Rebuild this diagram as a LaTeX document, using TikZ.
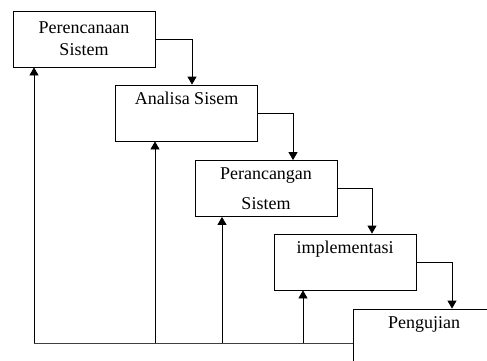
\documentclass[tikz,border=0pt]{standalone}
\usepackage{fontspec}
\setmainfont{Liberation Serif}
\usetikzlibrary{arrows.meta}
\tikzset{>={Triangle[length=8pt,width=9pt]}}

\begin{document}
\begin{tikzpicture}[x=1pt, y=-1pt, line width=0.8pt,
    tahap/.style={draw, minimum width=142pt, minimum height=56pt, inner sep=0pt,
      align=center, font=\fontsize{18}{22}\selectfont}]
    \clip (0,0) rectangle (487,360);
    \node[tahap] (P) at (84,39) {Perencanaan\\Sistem};
    \node[tahap] (A) at (186.5,113) {Analisa Sisem\\ \strut};
    \node[tahap] (R) at (266,188.5) {Perancangan\\[8pt]Sistem};
    \node[tahap] (I) at (345,262) {implementasi\\ \strut};
    \node[tahap] (U) at (424,337) {Pengujian\\ \strut};
    \draw[->] (P.east) -| ([xshift=5.5pt]A.north);
    \draw[->] (A.east) -| ([xshift=27pt]R.north);
    \draw[->] (R.east) -| ([xshift=27pt]I.north);
    \draw[->] (I.east) -| ([xshift=28pt]U.north);
  % umpan balik
    \coordinate (kiri) at (34,343);
    \draw[black!75] (kiri) -- (kiri -| U.west);
    \draw[->] (kiri) -- (kiri |- P.south);
    \draw[->] (kiri -| 155,0) -- (A.south -| 155,0);
    \draw[->] (kiri -| 222,0) -- (R.south -| 222,0);
    \draw[->] (kiri -| 303,0) -- (I.south -| 303,0);
\end{tikzpicture}
\end{document}
